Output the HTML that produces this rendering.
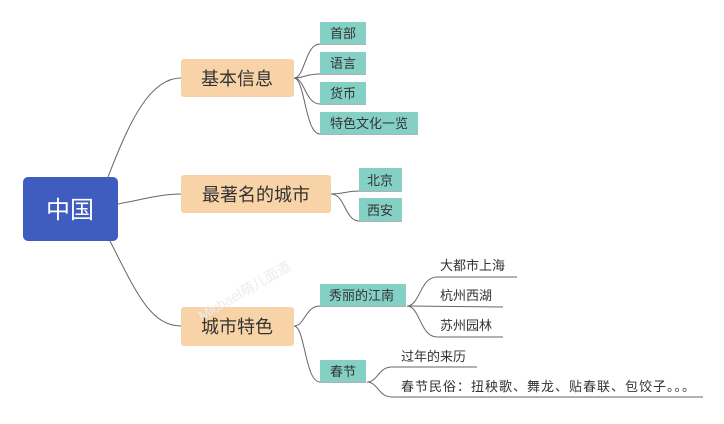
<!DOCTYPE html>
<html><head><meta charset="utf-8"><style>
body{margin:0;background:#fff;}
svg text{font-family:"Liberation Sans","Noto Sans CJK SC",sans-serif;fill:#333;}
</style></head><body>
<svg width="724" height="419" viewBox="0 0 724 419" xmlns="http://www.w3.org/2000/svg">
<g fill="none" stroke="#666" stroke-width="1">
<path d="M108 177 C130 120,150 78,181 78"/>
<path d="M118 204 C140 200,160 194,181 194"/>
<path d="M110 241 C135 290,150 326,181 326"/>
<path d="M294 78 C305 78,305 44,320 44 L366 44"/>
<path d="M294 78 C305 78,305 74,320 74 L366 74"/>
<path d="M294 78 C305 78,305 104,320 104 L366 104"/>
<path d="M294 78 C305 78,305 134,320 134 L418 134"/>
<path d="M331 194 C345 194,345 191,359 191 L402 191"/>
<path d="M331 194 C345 194,345 221,359 221 L402 221"/>
<path d="M294 326 C305 326,305 306,320 306 L406 306"/>
<path d="M294 326 C305 326,305 382,320 382 L366 382"/>
<path d="M407 306 C420 306,420 277,437 277 L517 277"/>
<path d="M407 306 L503 307"/>
<path d="M407 306 C420 306,420 337,437 337 L503 337"/>
<path d="M367 382 C378 382,378 367,392 367 L477 367"/>
<path d="M367 382 C378 382,378 397,392 397 L703 397"/>
</g>
<rect x="23" y="177" width="95" height="64" rx="5" fill="#3f5cbf"/>
<text x="70" y="218" font-size="24" text-anchor="middle" style="fill:#fff">中国</text>
<g fill="#f8d3a8">
<rect x="181" y="59" width="113" height="38" rx="3"/>
<rect x="181" y="175" width="150" height="38" rx="3"/>
<rect x="181" y="307" width="113" height="39" rx="3"/>
</g>
<g font-size="18" text-anchor="middle">
<text x="237" y="85">基本信息</text>
<text x="256" y="201">最著名的城市</text>
<text x="237" y="333">城市特色</text>
</g>
<g fill="#84d0c5">
<rect x="320" y="22" width="46" height="22"/>
<rect x="320" y="52" width="46" height="22"/>
<rect x="320" y="82" width="46" height="22"/>
<rect x="320" y="112" width="98" height="22"/>
<rect x="359" y="168" width="43" height="23"/>
<rect x="359" y="198" width="43" height="23"/>
<rect x="320" y="284" width="86" height="22"/>
<rect x="320" y="360" width="46" height="22"/>
</g>
<g font-size="13">
<text x="330" y="38">首部</text>
<text x="330" y="68">语言</text>
<text x="330" y="98">货币</text>
<text x="330" y="128">特色文化一览</text>
<text x="367" y="185">北京</text>
<text x="367" y="215">西安</text>
<text x="329" y="300">秀丽的江南</text>
<text x="330" y="376">春节</text>
<text x="440" y="270">大都市上海</text>
<text x="440" y="300">杭州西湖</text>
<text x="440" y="330">苏州园林</text>
<text x="401" y="361">过年的来历</text>
<text x="401" y="391" letter-spacing="1">春节民俗：扭秧歌、舞龙、贴春联、包饺子。。。</text>
</g>
<text x="180" y="300" font-size="14" transform="rotate(-30 230 270)" style="fill:#ececec">Michael萌儿面道</text>
</svg>
</body></html>
